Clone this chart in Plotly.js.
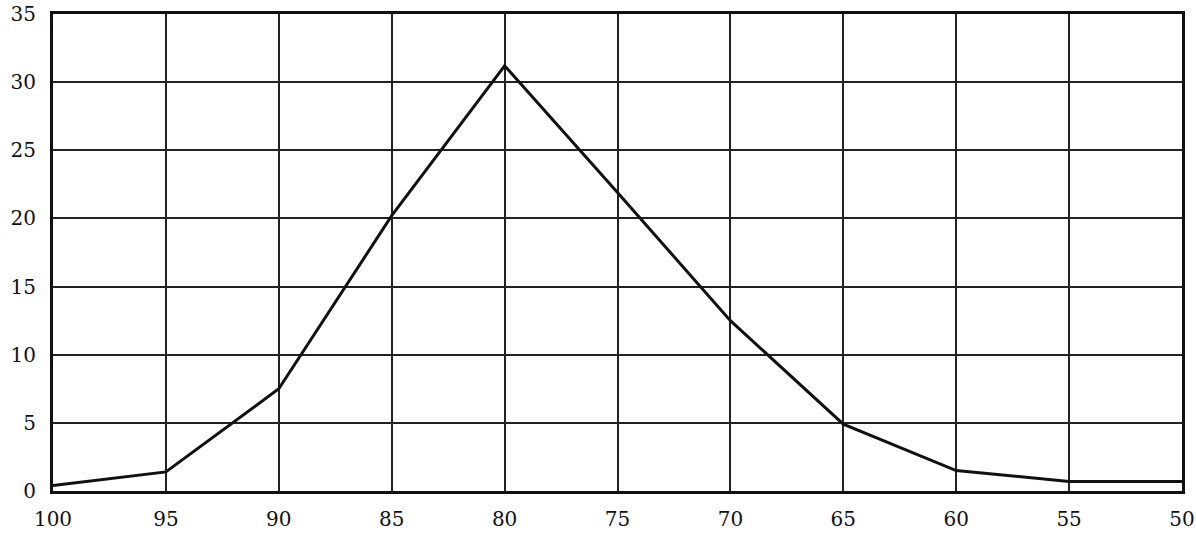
<!DOCTYPE html>
<html>
<head>
<meta charset="utf-8">
<script src="https://cdn.plot.ly/plotly-3.0.1.min.js"></script>
<style>html,body{margin:0;padding:0;background:#fff;}#chart{width:1196px;height:534px;}</style>
</head>
<body>
<div id="chart"></div>
<script>
const grades = [100, 95, 90, 85, 80, 75, 70, 65, 60, 55, 50];
const frequency = [0.4, 1.4, 7.5, 20.2, 31.2, 21.9, 12.5, 4.9, 1.5, 0.7, 0.7];
const xTicks = [100, 95, 90, 85, 80, 75, 70, 65, 60, 55, 50];
const yTicks = [0, 5, 10, 15, 20, 25, 30, 35];

const trace = {
  x: grades,
  y: frequency,
  type: 'scatter',
  mode: 'lines',
  line: {color: '#111', width: 3},
  hoverinfo: 'skip'
};

const layout = {
  width: 1196,
  height: 534,
  margin: {l: 53, r: 14, t: 14, b: 43},
  paper_bgcolor: '#fff',
  plot_bgcolor: '#fff',
  showlegend: false,
  font: {family: '"DejaVu Serif", "Liberation Serif", serif', size: 20, color: '#111'},
  xaxis: {
    range: [100, 50],
    tickvals: xTicks,
    ticktext: xTicks.map(String),
    showgrid: true,
    gridcolor: '#222',
    gridwidth: 2,
    zeroline: false,
    showline: true,
    linecolor: '#111',
    linewidth: 3,
    mirror: true,
    ticks: '',
    ticklabelstandoff: 8
  },
  yaxis: {
    range: [0, 35],
    tickvals: yTicks,
    ticktext: yTicks.map(String),
    showgrid: true,
    gridcolor: '#222',
    gridwidth: 2,
    zeroline: false,
    showline: true,
    linecolor: '#111',
    linewidth: 3,
    mirror: true,
    ticks: '',
    ticklabelstandoff: 10
  }
};

Plotly.newPlot('chart', [trace], layout, {staticPlot: true});
</script>
</body>
</html>
